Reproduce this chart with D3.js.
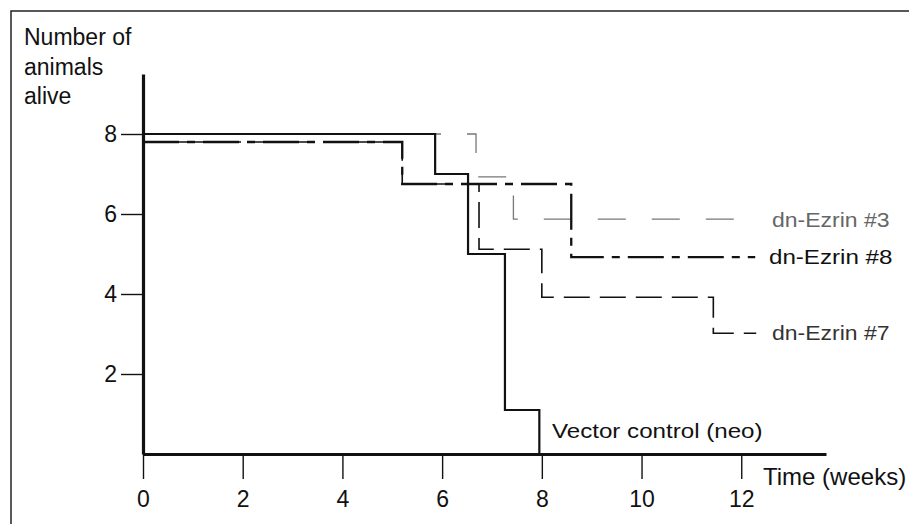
<!DOCTYPE html>
<html>
<head>
<meta charset="utf-8">
<script src="https://cdn.jsdelivr.net/npm/d3@7"></script>
<style>
  body { margin: 0; background: #fff; }
  svg text { font-family: "Liberation Sans", Arial, Helvetica, sans-serif; fill: #111; }
</style>
</head>
<body>
<div id="chart"></div>
<script>
// Survival data (weeks where the count changes, animals alive)
const vectorWeeks = [0, 5.86, 6.52, 7.26, 7.95];
const vectorAlive = [8, 7, 5, 1.1, 0];

const ezrin3Weeks = [0, 6.68, 7.43, 12.22];
const ezrin3Alive = [8, 6.93, 5.87, 5.87];

const ezrin8Weeks = [0, 5.2, 8.59, 12.28];
const ezrin8Alive = [7.8, 6.75, 4.92, 4.92];

const ezrin7Weeks = [0, 5.2, 6.74, 8.0, 11.44, 12.3];
const ezrin7Alive = [7.8, 6.75, 5.12, 3.92, 3.02, 3.02];

const xTicks = [0, 2, 4, 6, 8, 10, 12];
const yTicks = [2, 4, 6, 8];

const width = 909, height = 524;

const svg = d3.select("#chart")
  .append("svg")
  .attr("width", width)
  .attr("height", height);

// frame round the figure
svg.append("rect")
  .attr("x", 11).attr("y", 11)
  .attr("width", 930).attr("height", 560)
  .attr("fill", "none")
  .attr("stroke", "#222")
  .attr("stroke-width", 1.5);

const x = d3.scaleLinear().domain([0, 13.7]).range([143, 826]);
const y = d3.scaleLinear().domain([0, 9.5]).range([454, 74]);

// series lines
const series = [
  { weeks: ezrin3Weeks, alive: ezrin3Alive, color: "#777", width: 1.3, dash: "28,26" },
  { weeks: ezrin7Weeks, alive: ezrin7Alive, color: "#111", width: 1.6, dash: "26,10" },
  { weeks: ezrin8Weeks, alive: ezrin8Alive, color: "#111", width: 2.3, dash: "36,8,8,8" },
  { weeks: vectorWeeks, alive: vectorAlive, color: "#111", width: 2.2, dash: null }
];

const line = d3.line()
  .x(d => x(d[0]))
  .y(d => y(d[1]))
  .curve(d3.curveStepAfter);

svg.append("g")
  .selectAll("path")
  .data(series)
  .join("path")
  .attr("d", s => line(d3.zip(s.weeks, s.alive)))
  .attr("fill", "none")
  .attr("stroke", s => s.color)
  .attr("stroke-width", s => s.width)
  .attr("stroke-dasharray", s => s.dash);

// axes
const xAxis = svg.append("g")
  .attr("transform", `translate(0,${y(0)})`)
  .call(d3.axisBottom(x).tickValues(xTicks).tickSize(25).tickSizeOuter(0).tickPadding(12));

xAxis.select(".domain").attr("stroke", "#111").attr("stroke-width", 3);
xAxis.selectAll(".tick line").attr("stroke", "#111").attr("stroke-width", 1.4);
xAxis.selectAll(".tick text").attr("font-size", 23).style("fill", "#111");

const yAxis = svg.append("g")
  .attr("transform", `translate(${x(0)},0)`)
  .call(d3.axisLeft(y).tickValues(yTicks).tickSize(22).tickSizeOuter(0).tickPadding(4));

yAxis.select(".domain").attr("stroke", "#111").attr("stroke-width", 3.2);
yAxis.selectAll(".tick line").attr("stroke", "#111").attr("stroke-width", 1.4);
yAxis.selectAll(".tick text").attr("font-size", 23).style("fill", "#111");

// axis titles
const yTitle = svg.append("text")
  .attr("x", 24)
  .attr("y", 45)
  .attr("font-size", 23);
["Number of", "animals", "alive"].forEach((t, i) => {
  yTitle.append("tspan").attr("x", 24).attr("dy", i === 0 ? 0 : 29.5).text(t);
});

svg.append("text")
  .attr("x", 763)
  .attr("y", 485)
  .attr("font-size", 24)
  .text("Time (weeks)");

// series labels
const labels = [
  { text: "dn-Ezrin #3", x: 772, y: 227, size: 20, color: "#666" },
  { text: "dn-Ezrin #8", x: 769, y: 264, size: 21, color: "#111" },
  { text: "dn-Ezrin #7", x: 772, y: 340, size: 20, color: "#333" },
  { text: "Vector control (neo)", x: 552, y: 438, size: 21, color: "#111" }
];

svg.append("g")
  .selectAll("text")
  .data(labels)
  .join("text")
  .attr("transform", d => `translate(${d.x},${d.y}) scale(1.15,1)`)
  .attr("font-size", d => d.size)
  .style("fill", d => d.color)
  .text(d => d.text);
</script>
</body>
</html>
